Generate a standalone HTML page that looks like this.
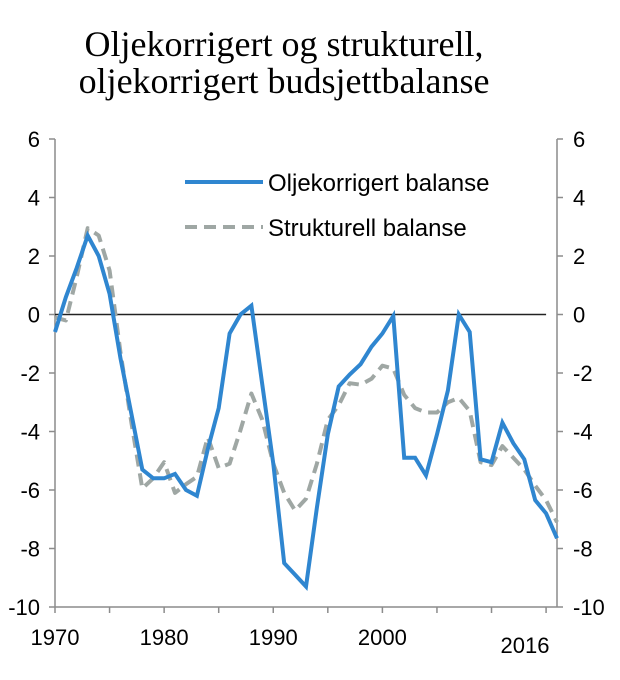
<!DOCTYPE html>
<html><head><meta charset="utf-8"><style>
body{margin:0;background:#fff;}
svg text{font-family:"Liberation Sans",Arial,sans-serif;}
</style></head><body>
<svg width="620" height="675" viewBox="0 0 620 675">
<g font-size="36" text-anchor="middle" fill="#000">
<text x="284" y="56" style="font-family:'Liberation Serif',serif">Oljekorrigert og strukturell,</text>
<text x="284" y="93" style="font-family:'Liberation Serif',serif">oljekorrigert budsjettbalanse</text>
</g>
<g id="axes"></g>
<g id="series"></g>
<g>
<line x1="185" y1="182" x2="263" y2="182" stroke="#2f86d0" stroke-width="4"/>
<text x="268" y="191" font-size="24">Oljekorrigert balanse</text>
<line x1="185" y1="227" x2="263" y2="227" stroke="#9fa7a4" stroke-width="4" stroke-dasharray="12,7"/>
<text x="268" y="236" font-size="24">Strukturell balanse</text>
</g>
</svg>
<script>
const years=[];for(let y=1970;y<=2016;y++)years.push(y);
const oljekorrigert=[-0.6,0.6,1.6,2.7,2.0,0.7,-1.5,-3.4,-5.3,-5.6,-5.6,-5.45,-6.0,-6.2,-4.6,-3.2,-0.65,0,0.3,-2.4,-5.1,-8.5,-8.9,-9.3,-6.6,-4.1,-2.46,-2.05,-1.7,-1.1,-0.65,-0.05,-4.9,-4.9,-5.5,-4.1,-2.6,0,-0.6,-4.95,-5.05,-3.7,-4.4,-4.95,-6.35,-6.8,-7.65];
const strukturell=[-0.1,-0.2,1.3,2.95,2.7,1.5,-1.3,-3.7,-5.95,-5.6,-5.05,-6.1,-5.8,-5.55,-4.2,-5.25,-5.1,-3.95,-2.7,-3.6,-5.1,-6.1,-6.7,-6.3,-5.1,-3.6,-3.1,-2.35,-2.4,-2.2,-1.75,-1.85,-2.75,-3.2,-3.35,-3.35,-3.0,-2.85,-3.3,-5.05,-5.15,-4.5,-4.9,-5.3,-5.85,-6.35,-7.1];
const yTicks=[6,4,2,0,-2,-4,-6,-8,-10];
const xLabels=[1970,1980,1990,2000];
const NS='http://www.w3.org/2000/svg';
const X0=55,X1=557,Y6=139,Y10=607;
const xs=y=>X0+(y-1970)*(X1-X0)/46;
const ys=v=>Y6+(6-v)*(Y10-Y6)/16;
function mk(t,a,p){const e=document.createElementNS(NS,t);for(const k in a)e.setAttribute(k,a[k]);p.appendChild(e);return e;}
const ax=document.getElementById('axes');
const la=mk('line',{x1:X0,y1:Y6,x2:X0,y2:Y10,stroke:'#8c8c8c','stroke-width':1.5},ax);


const ra=mk('line',{x1:X1,y1:Y6,x2:X1,y2:Y10,stroke:'#8c8c8c','stroke-width':1.5},ax);


const xa=mk('line',{x1:X0,y1:Y10,x2:X1,y2:Y10,stroke:'#8c8c8c','stroke-width':1.5},ax);


yTicks.forEach(v=>{
 const y=ys(v);
 mk('line',{x1:X0-6,y1:y,x2:X0,y2:y,stroke:'#8c8c8c','stroke-width':1.5},ax);
 mk('line',{x1:X1,y1:y,x2:X1+6,y2:y,stroke:'#8c8c8c','stroke-width':1.5},ax);
 const t=mk('text',{x:40,y:y+8,'font-size':22,'text-anchor':'end'},ax);t.textContent=v;
 
 
 const t2=mk('text',{x:573,y:y+8,'font-size':22},ax);t2.textContent=v;
 
 
});
for(let y=1970;y<=2015;y+=5){mk('line',{x1:xs(y),y1:Y10,x2:xs(y),y2:Y10+6,stroke:'#8c8c8c','stroke-width':1.5},ax);}
xLabels.forEach(y=>{const t=mk('text',{x:xs(y),y:645,'font-size':22,'text-anchor':'middle'},ax);t.textContent=y;
 
 });
const t16=mk('text',{x:525,y:653,'font-size':22,'text-anchor':'middle'},ax);t16.textContent='2016';


const zl=mk('line',{x1:X0,y1:ys(0),x2:xs(2015),y2:ys(0),stroke:'#222','stroke-width':1.5},ax);


const se=document.getElementById('series');
const pts=a=>a.map((v,i)=>xs(years[i]).toFixed(1)+','+ys(v).toFixed(1)).join(' ');
const g=mk('polyline',{points:pts(strukturell),fill:'none',stroke:'#9fa7a4','stroke-width':4,'stroke-dasharray':'12,7','stroke-linejoin':'round'},se);


const b=mk('polyline',{points:pts(oljekorrigert),fill:'none',stroke:'#2f86d0','stroke-width':4,'stroke-linejoin':'miter'},se);


</script>
</body></html>
